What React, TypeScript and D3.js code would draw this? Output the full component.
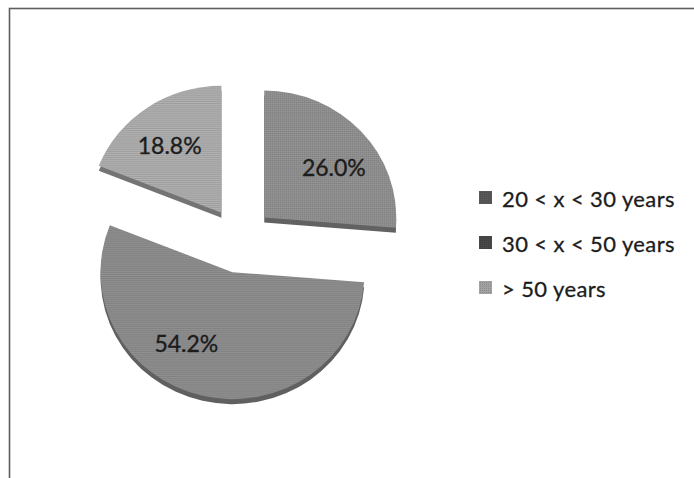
import React from "react";
import * as d3 from "d3";

const categories = ["20 < x < 30 years", "30 < x < 50 years", "> 50 years"];
const values = [26.0, 54.2, 18.8];
const sliceTop = ["#8c8c8c", "#898989", "#a8a8a8"];
const sliceSide = ["#626262", "#606060", "#747474"];
const legendColors = ["#585858", "#484848", "#a2a2a2"];

const W = 694;
const H = 478;
const cx = 240;
const cy = 240;
const rx = 132;
const ry = 127;
const explode = 33;
const depth = 5;
const labelR = 0.66;
const labelAngleShift = [0.1, 0.33, -0.04];

export default function App() {
  const pie = d3.pie<number>().sort(null).value((d) => d).startAngle(0).endAngle(Math.PI * 2);
  const arcs = pie(values);
  const arcGen = d3.arc<d3.PieArcDatum<number>>().innerRadius(0).outerRadius(rx);
  const sy = ry / rx;

  const slices = arcs.map((a, i) => {
    const mid = (a.startAngle + a.endAngle) / 2;
    const vx = cx + Math.sin(mid) * explode;
    const vy = cy - Math.cos(mid) * explode;
    const la = mid + labelAngleShift[i];
    const lx = vx + Math.sin(la) * rx * labelR;
    const ly = vy - Math.cos(la) * ry * labelR;
    return { a, i, vx, vy, lx, ly, d: arcGen(a) as string };
  });

  return (
    <svg width={W} height={H} style={{ position: "absolute", left: 0, top: 0, background: "#fff" }}>
      <defs>
        {sliceTop.map((c, i) => {
          const col = d3.color(c)!;
          const dark = (col as any).darker(0.35).formatHex();
          const light = (col as any).brighter(0.3).formatHex();
          return (
            <pattern key={i} id={`p${i}`} width={2} height={2} patternUnits="userSpaceOnUse">
              <rect width={2} height={2} fill={c} />
              <rect width={1} height={1} fill={dark} />
              <rect x={1} y={1} width={1} height={1} fill={light} />
            </pattern>
          );
        })}
        {legendColors.map((c, i) => {
          const col = d3.color(c)!;
          const dark = (col as any).darker(0.4).formatHex();
          return (
            <pattern key={i} id={`lp${i}`} width={2} height={2} patternUnits="userSpaceOnUse">
              <rect width={2} height={2} fill={c} />
              <rect width={1} height={1} fill={dark} />
            </pattern>
          );
        })}
      </defs>
      <rect x={9.5} y={8.5} width={W + 20} height={H + 20} fill="#fff" stroke="#5e5e5e" strokeWidth={1.6} />
      {slices.map((s) => (
        <g key={`side${s.i}`} transform={`translate(${s.vx},${s.vy + depth}) scale(1,${sy})`}>
          <path d={s.d} fill={sliceSide[s.i]} />
        </g>
      ))}
      {slices.map((s) => (
        <g key={`top${s.i}`} transform={`translate(${s.vx},${s.vy}) scale(1,${sy})`}>
          <path d={s.d} fill={`url(#p${s.i})`} />
        </g>
      ))}
      {slices.map((s) => (
        <text
          key={`lab${s.i}`}
          x={s.lx}
          y={s.ly}
          textAnchor="middle"
          dominantBaseline="central"
          fontFamily="Lato, sans-serif"
          fontSize={23}
          fill="#1c1c1c"
          stroke="#1c1c1c"
          strokeWidth={0.35}
        >
          {values[s.i].toFixed(1)}%
        </text>
      ))}
      {categories.map((c, i) => {
        const y = 198 + i * 45;
        return (
          <g key={c}>
            <rect x={479} y={y - 7} width={13} height={13} fill={`url(#lp${i})`} />
            <text
              x={502}
              y={y}
              dominantBaseline="central"
              fontFamily="Lato, sans-serif"
              fontSize={22}
              letterSpacing={0.4}
              fill="#1c1c1c"
              stroke="#1c1c1c"
              strokeWidth={0.3}
            >
              {c}
            </text>
          </g>
        );
      })}
    </svg>
  );
}
